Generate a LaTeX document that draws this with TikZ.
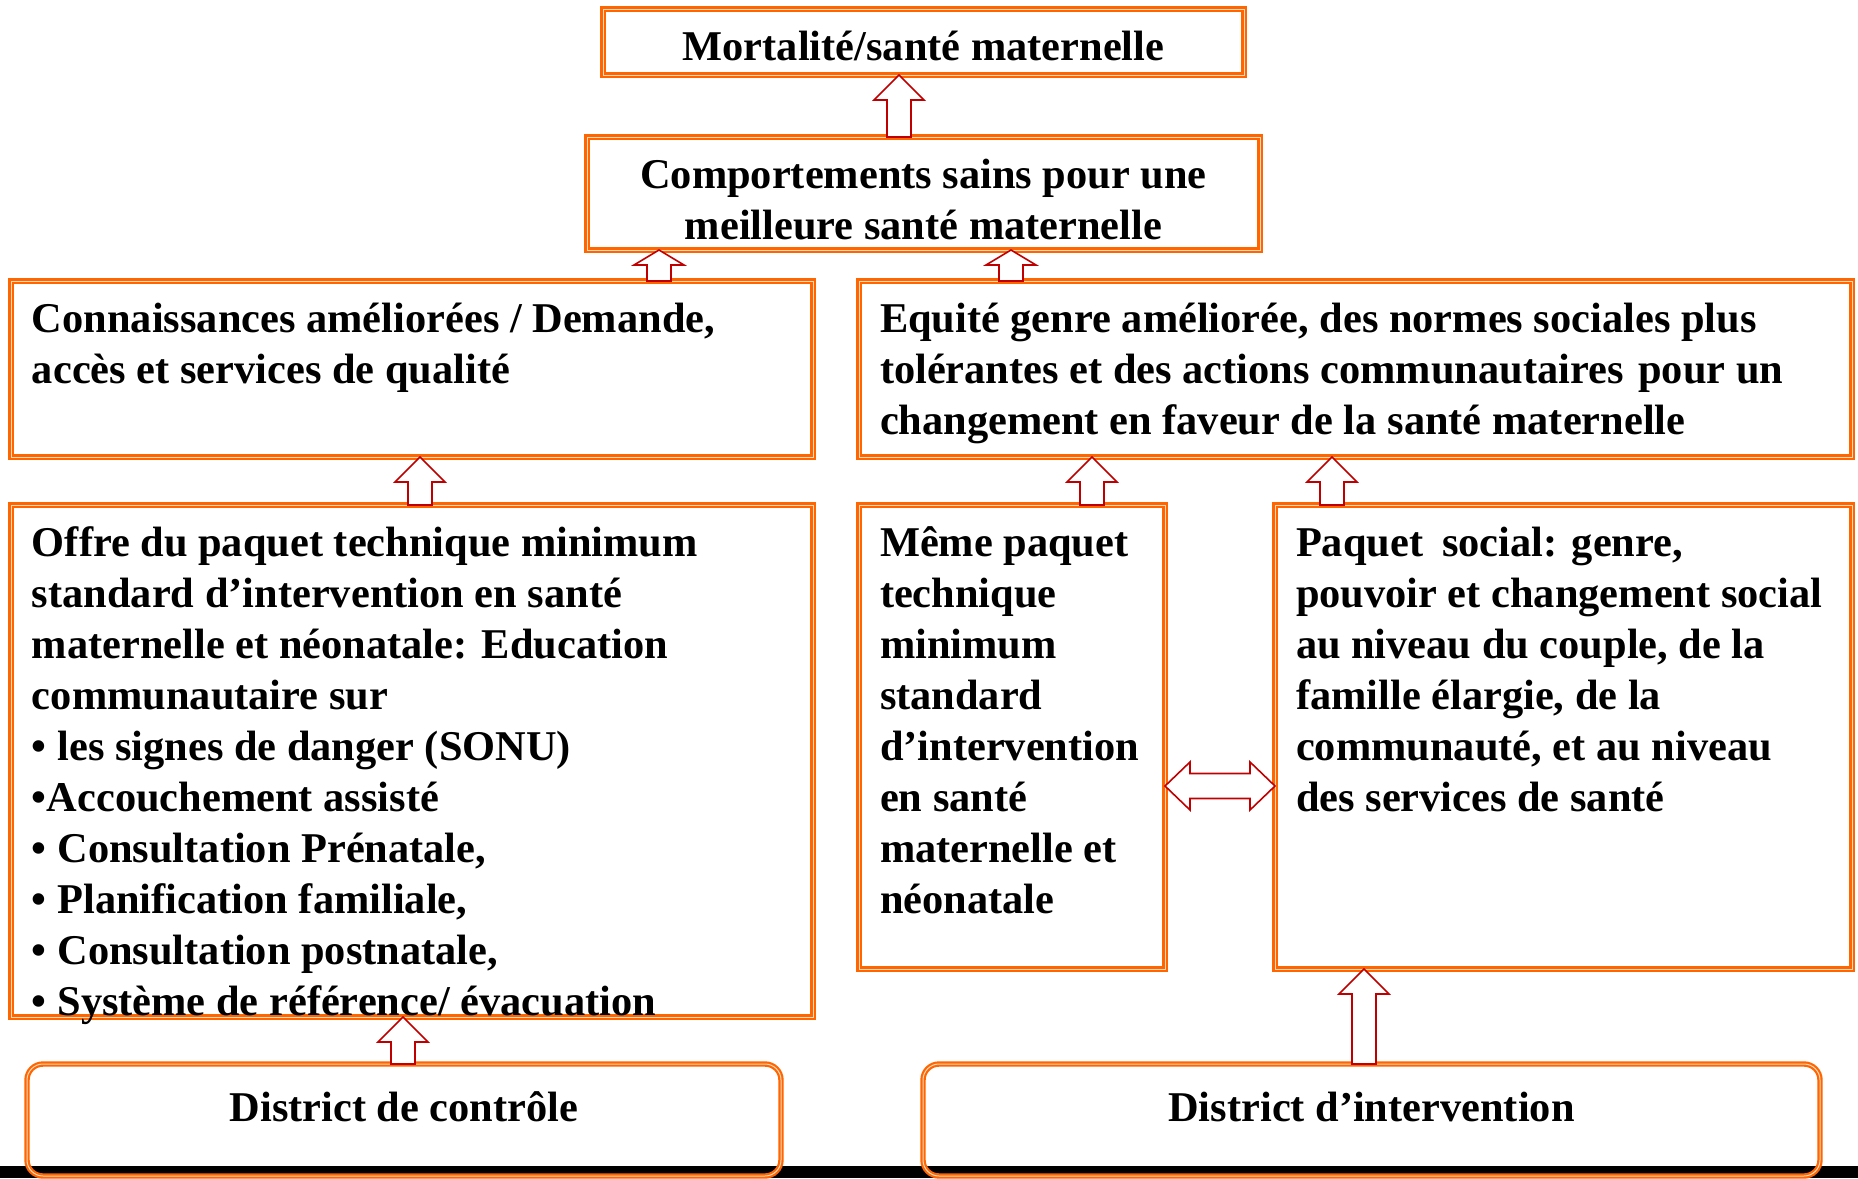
\documentclass[tikz,border=0pt]{standalone}
\usepackage{fontspec}
\setmainfont{Liberation Serif}
\usetikzlibrary{calc}

\definecolor{orangebord}{RGB}{255,102,0}
\definecolor{rougefleche}{RGB}{192,0,0}

\newcommand{\contenu}[4][\raggedright]{\parbox[c][#3][t]{#2}{#1\hyphenpenalty=10000\strut #4}}
\newcommand{\blocfleche}[3][12.5pt]{%
  \draw[fleche] let \p1=(#2), \p2=(#3) in
    (\x1-6pt,\y1) -- (\x1-6pt,\y2-#1) -- (\x1-12.5pt,\y2-#1) -- (\x1,\y2)
    -- (\x1+12.5pt,\y2-#1) -- (\x1+6pt,\y2-#1) -- (\x1+6pt,\y1) -- cycle;}

\begin{document}
\begin{tikzpicture}
    [
    x=0.5pt,y=-0.5pt,
    boite/.style={draw=orangebord,line width=1.1pt,double=orangebord!25,double distance=0.5pt,
      fill=white,anchor=north west,inner xsep=10.5pt,inner ysep=7.65pt,outer sep=0pt,
      font=\fontsize{21.2pt}{25.5pt}\selectfont\bfseries},
    district/.style={boite,fill=none,rounded corners=8pt,inner ysep=11pt},
    fleche/.style={draw=rougefleche,fill=white,line width=0.8pt,line join=miter}
    ]
\useasboundingbox (0,0) rectangle (1858,1178);
\fill[white] (0,0) rectangle (1858,1178);
\fill[black] (0,1166) rectangle (1858,1178);

\node[boite] (mortalite) at (603,9) {\contenu[\centering]{299.5pt}{17.7pt}{Mortalité/santé maternelle}};
\node[boite] (comportements) at (587,137) {\contenu[\centering]{315.5pt}{41.2pt}{Comportements sains pour une\\ meilleure santé maternelle}};
\node[boite] (connaissances) at (11,281) {\contenu{380pt}{72.7pt}{Connaissances améliorées / Demande,\\ accès et services de qualité}};
\node[boite] (equite) at (859,281) {\contenu{475.5pt}{72.7pt}{Equité genre améliorée, des normes sociales plus\\ tolérantes et des actions communautaires\hspace{0.1em} pour un\\ changement en faveur de la santé maternelle}};
\node[boite] (offre) at (11,505) {\contenu{380pt}{240.7pt}{Offre du paquet technique minimum\\ standard d’intervention en santé\\ maternelle et néonatale: Education\\ communautaire sur\\ • les signes de danger (SONU)\\ •Accouchement assisté\\ • Consultation Prénatale,\\ • Planification familiale,\\ • Consultation postnatale,\\ • Système de référence/ évacuation}};
\node[boite] (meme) at (859,505) {\contenu{132pt}{216.7pt}{Même paquet\\ technique\\ minimum\\ standard\\ d’intervention\\ en santé\\ maternelle et\\ néonatale}};
\node[boite] (paquet) at (1275,505) {\contenu{267.5pt}{216.7pt}{Paquet\hspace{0.2em} social: genre,\\ pouvoir et changement social\\ au niveau du couple, de la\\ famille élargie, de la\\ communauté, et au niveau\\ des services de santé}};
\node[district] (controle) at (27,1064) {\contenu[\centering]{356pt}{34pt}{District de contrôle}};
\node[district] (intervention) at (923,1064) {\contenu[\centering]{427.5pt}{34pt}{District d’intervention}};

\blocfleche{$(comportements.north west)+(312,0)$}{mortalite.south}
\blocfleche[7.5pt]{$(connaissances.north west)+(648,0)$}{comportements.south}
\blocfleche[7.5pt]{$(equite.north west)+(152,0)$}{comportements.south}
\blocfleche{$(offre.north west)+(409,0)$}{connaissances.south}
\blocfleche{$(meme.north west)+(233,0)$}{equite.south}
\blocfleche{$(paquet.north west)+(57,0)$}{equite.south}
\blocfleche{$(controle.north west)+(376,0)$}{offre.south}
\blocfleche{$(intervention.north west)+(441,0)$}{paquet.south}
\draw[fleche] let \p1=($(meme.east)+(0,49)$), \p2=(paquet.west) in
  (\x1,\y1) -- (\x1+12.5pt,\y1+12pt) -- (\x1+12.5pt,\y1+6.25pt) -- (\x2-12.5pt,\y1+6.25pt)
  -- (\x2-12.5pt,\y1+12pt) -- (\x2,\y1) -- (\x2-12.5pt,\y1-12pt) -- (\x2-12.5pt,\y1-6.25pt)
  -- (\x1+12.5pt,\y1-6.25pt) -- (\x1+12.5pt,\y1-12pt) -- cycle;
\end{tikzpicture}
\end{document}
